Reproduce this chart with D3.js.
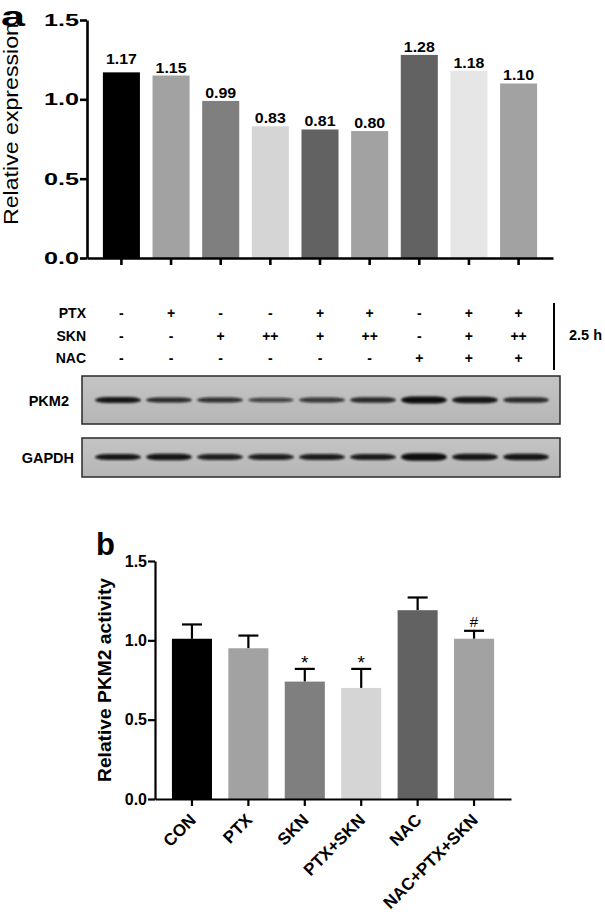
<!DOCTYPE html>
<meta charset="UTF-8">
<style>
body { margin: 0; background: #fff; }
svg text { font-family: "Liberation Sans", Arial, sans-serif; fill: #000; }
.bold { font-weight: bold; }
</style>
<svg width="605" height="919"></svg>
<script src="https://cdnjs.cloudflare.com/ajax/libs/d3/7.8.5/d3.min.js"></script>
<script>
// panel a: relative expression of PKM2 (western blot densitometry)
var laneValues = [1.17, 1.15, 0.99, 0.83, 0.81, 0.80, 1.28, 1.18, 1.10]
var laneColors = ["#000000", "#a2a2a2", "#7f7f7f", "#d5d5d5", "#626262", "#a2a2a2", "#626262", "#e6e6e6", "#a2a2a2"]
var ptxRow = ["-", "+", "-", "-", "+", "+", "-", "+", "+"]
var sknRow = ["-", "-", "+", "++", "+", "++", "-", "+", "++"]
var nacRow = ["-", "-", "-", "-", "-", "-", "+", "+", "+"]
var yTicks = [0, 0.5, 1.0, 1.5]

// blot band strength / thickness per lane
var pkm2Bands = [0.95, 0.85, 0.82, 0.72, 0.78, 0.85, 1.0, 0.95, 0.85]
var pkm2Thick = [6, 5, 5, 4.5, 5, 5.5, 7, 6.5, 5.5]
var gapdhBands = [0.95, 0.95, 0.9, 0.9, 0.92, 0.92, 1.0, 0.95, 0.95]
var gapdhThick = [6, 6.5, 6, 6, 6, 6, 7.5, 6.5, 6.5]

// panel b: PKM2 activity
var groups = ["CON", "PTX", "SKN", "PTX+SKN", "NAC", "NAC+PTX+SKN"]
var activity = [1.01, 0.95, 0.74, 0.70, 1.19, 1.01]
var activityErr = [0.09, 0.08, 0.08, 0.12, 0.08, 0.05]
var activityMarks = ["", "", "*", "*", "", "#"]
var groupColors = ["#000000", "#a2a2a2", "#7f7f7f", "#d5d5d5", "#626262", "#a2a2a2"]

var svg = d3.select("svg")
var fmt = d3.format(".1f")
var lanes = d3.range(laneValues.length)

// ---------- panel a ----------
var xTop = d3.scaleBand().domain(lanes).range([87, 553]).paddingInner(0.254).paddingOuter(0.32)
var yTop = d3.scaleLinear().domain([0, 1.5]).range([258, 20])

svg.append("text").attr("class", "bold")
	.attr("x", 1).attr("y", 25.5)
	.attr("textLength", 24).attr("lengthAdjust", "spacingAndGlyphs")
	.style("font-size", "28px").text("a")

svg.append("text")
	.attr("transform", "translate(18,124) rotate(-90)")
	.attr("text-anchor", "middle")
	.attr("textLength", 202).attr("lengthAdjust", "spacingAndGlyphs")
	.style("font-size", "21px").text("Relative expression")

svg.append("g").selectAll("rect")
	.data(laneValues)
	.enter()
	.append("rect")
	.attr("x", (d, i) => xTop(i))
	.attr("width", xTop.bandwidth())
	.attr("y", d => yTop(d))
	.attr("height", d => yTop(0) - yTop(d))
	.attr("fill", (d, i) => laneColors[i])

svg.append("g").selectAll("text")
	.data(laneValues)
	.enter()
	.append("text")
	.attr("class", "bold")
	.attr("x", (d, i) => xTop(i) + xTop.bandwidth() / 2)
	.attr("y", (d, i) => yTop(d) - (i == 0 ? 8 : 3))
	.attr("text-anchor", "middle")
	.attr("textLength", 31).attr("lengthAdjust", "spacingAndGlyphs")
	.style("font-size", "14.5px")
	.text(d => d.toFixed(2))

var axTopY = svg.append("g").attr("transform", "translate(87,0)")
	.call(d3.axisLeft(yTop).tickValues(yTicks).tickFormat(fmt).tickSize(7).tickSizeOuter(0).tickPadding(1))
var axTopX = svg.append("g").attr("transform", "translate(0,258)")
	.call(d3.axisBottom(xTop).tickSize(7).tickSizeOuter(0).tickFormat(""))
;[axTopY, axTopX].forEach(g => {
	g.select(".domain").attr("stroke", "#000").attr("stroke-width", 2.6)
	g.selectAll(".tick line").attr("stroke", "#000").attr("stroke-width", 2.6)
})
axTopY.selectAll(".tick text")
	.attr("class", "bold")
	.attr("textLength", 35).attr("lengthAdjust", "spacingAndGlyphs")
	.style("font-size", "17px").style("font-family", "'Liberation Sans', Arial, sans-serif")

// treatment table
var rows = [["PTX", ptxRow], ["SKN", sknRow], ["NAC", nacRow]]
rows.forEach((r, ri) => {
	var yy = 318 + ri * 22.5
	svg.append("text").attr("class", "bold")
		.attr("x", 86).attr("y", yy).attr("text-anchor", "end")
		.style("font-size", "14px").text(r[0])
	svg.append("g").selectAll("text")
		.data(r[1])
		.enter()
		.append("text")
		.attr("class", "bold")
		.attr("x", (d, i) => xTop(i) + xTop.bandwidth() / 2)
		.attr("y", yy)
		.attr("text-anchor", "middle")
		.style("font-size", "14px")
		.text(d => d)
})
svg.append("line").attr("x1", 554).attr("x2", 554).attr("y1", 303).attr("y2", 370)
	.attr("stroke", "#000").attr("stroke-width", 2)
svg.append("text").attr("class", "bold")
	.attr("x", 569).attr("y", 340)
	.style("font-size", "14.5px").text("2.5 h")

// blots
var defs = svg.append("defs")
defs.append("filter").attr("id", "blur")
	.attr("x", "-20%").attr("y", "-200%").attr("width", "140%").attr("height", "500%")
	.append("feGaussianBlur").attr("stdDeviation", 1.2)
var bg = defs.append("linearGradient").attr("id", "blotbg").attr("x1", 0).attr("x2", 0).attr("y1", 0).attr("y2", 1)
bg.append("stop").attr("offset", "0%").attr("stop-color", "#c4c4c4")
bg.append("stop").attr("offset", "100%").attr("stop-color", "#b6b6b6")

var xLane = d3.scalePoint().domain(lanes).range([118, 526])
var blots = [
	{name: "PKM2", top: 376, bottom: 424, cy: 400, bands: pkm2Bands, thick: pkm2Thick},
	{name: "GAPDH", top: 438, bottom: 477, cy: 457, bands: gapdhBands, thick: gapdhThick}
]
blots.forEach(b => {
	svg.append("rect")
		.attr("x", 82).attr("y", b.top)
		.attr("width", 478).attr("height", b.bottom - b.top)
		.attr("fill", "url(#blotbg)").attr("stroke", "#2a2a2a").attr("stroke-width", 1.5)
	svg.append("g").attr("filter", "url(#blur)").selectAll("rect")
		.data(b.bands)
		.enter()
		.append("rect")
		.attr("x", (d, i) => xLane(i) - 23)
		.attr("width", 46)
		.attr("y", (d, i) => b.cy - b.thick[i] / 2)
		.attr("height", (d, i) => b.thick[i])
		.attr("rx", 12)
		.attr("ry", (d, i) => b.thick[i] / 2)
		.attr("fill", "#0d0d0d")
		.attr("opacity", d => d)
	svg.append("text").attr("class", "bold")
		.attr("x", b.name == "PKM2" ? 69 : 74).attr("y", b.cy + 6)
		.attr("text-anchor", "end")
		.style("font-size", "14.5px").text(b.name)
})

// ---------- panel b ----------
var xBot = d3.scaleBand().domain(groups).range([155, 511]).paddingInner(0.29).paddingOuter(0.3)
var yBot = d3.scaleLinear().domain([0, 1.5]).range([799, 561])

svg.append("text").attr("class", "bold")
	.attr("x", 96).attr("y", 555)
	.style("font-size", "31px").text("b")

svg.append("text").attr("class", "bold")
	.attr("transform", "translate(111,680) rotate(-90)")
	.attr("text-anchor", "middle")
	.attr("textLength", 204).attr("lengthAdjust", "spacingAndGlyphs")
	.style("font-size", "19px").text("Relative PKM2 activity")

var bars = svg.append("g").selectAll("g")
	.data(groups)
	.enter()
	.append("g")

bars.append("line")
	.attr("x1", d => xBot(d) + xBot.bandwidth() / 2)
	.attr("x2", d => xBot(d) + xBot.bandwidth() / 2)
	.attr("y1", (d, i) => yBot(activity[i]))
	.attr("y2", (d, i) => yBot(activity[i] + activityErr[i]))
	.attr("stroke", "#000").attr("stroke-width", 2.2)
bars.append("line")
	.attr("x1", d => xBot(d) + xBot.bandwidth() / 2 - 10)
	.attr("x2", d => xBot(d) + xBot.bandwidth() / 2 + 10)
	.attr("y1", (d, i) => yBot(activity[i] + activityErr[i]))
	.attr("y2", (d, i) => yBot(activity[i] + activityErr[i]))
	.attr("stroke", "#000").attr("stroke-width", 2.2)
bars.append("rect")
	.attr("x", d => xBot(d))
	.attr("width", xBot.bandwidth())
	.attr("y", (d, i) => yBot(activity[i]))
	.attr("height", (d, i) => yBot(0) - yBot(activity[i]))
	.attr("fill", (d, i) => groupColors[i])
bars.append("text")
	.attr("x", d => xBot(d) + xBot.bandwidth() / 2)
	.attr("y", (d, i) => yBot(activity[i] + activityErr[i]) + (activityMarks[i] == "#" ? -4 : 0))
	.attr("text-anchor", "middle")
	.style("font-size", (d, i) => activityMarks[i] == "#" ? "15px" : "19px")
	.text((d, i) => activityMarks[i])

var axBotY = svg.append("g").attr("transform", "translate(155,0)")
	.call(d3.axisLeft(yBot).tickValues(yTicks).tickFormat(fmt).tickSize(7).tickSizeOuter(0).tickPadding(1))
var axBotX = svg.append("g").attr("transform", "translate(0,799)")
	.call(d3.axisBottom(xBot).tickSize(7).tickSizeOuter(0).tickFormat(""))
;[axBotY, axBotX].forEach(g => {
	g.select(".domain").attr("stroke", "#000").attr("stroke-width", 2.2)
	g.selectAll(".tick line").attr("stroke", "#000").attr("stroke-width", 2.2)
})
axBotY.selectAll(".tick text")
	.attr("class", "bold")
	.style("font-size", "16px").style("font-family", "'Liberation Sans', Arial, sans-serif")

svg.append("g").selectAll("text")
	.data(groups)
	.enter()
	.append("text")
	.attr("class", "bold")
	.attr("transform", d => "translate(" + (xBot(d) + xBot.bandwidth() / 2 + 5) + ",821) rotate(-45)")
	.attr("text-anchor", "end")
	.style("font-size", "17px")
	.text(d => d)
</script>
